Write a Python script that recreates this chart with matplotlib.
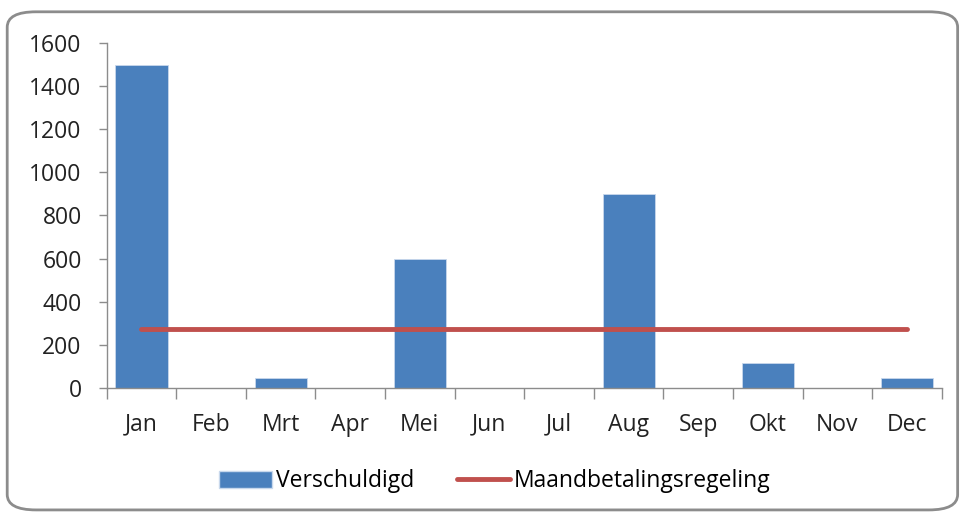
import matplotlib.pyplot as plt
from matplotlib.patches import FancyBboxPatch
from matplotlib.lines import Line2D
from matplotlib.patches import Patch
import numpy as np

maanden = ["Jan", "Feb", "Mrt", "Apr", "Mei", "Jun", "Jul", "Aug", "Sep", "Okt", "Nov", "Dec"]
verschuldigd = [1500, 0, 45, 0, 600, 0, 0, 900, 0, 115, 0, 45]
regeling = [275] * 12
y_ticks = [0, 200, 400, 600, 800, 1000, 1200, 1400, 1600]

plt.rcParams["font.family"] = ["Open Sans", "DejaVu Sans"]

fig = plt.figure(figsize=(9.61, 5.13), dpi=100)
ax = fig.add_axes([0.111, 0.244, 0.869, 0.672])

# rand om de grafiek heen
rand = FancyBboxPatch((0.0075, 0.006), 0.989, 0.971, boxstyle="round,pad=0,rounding_size=0.03",
                      transform=fig.transFigure, fill=False, edgecolor="#8c8c8c", linewidth=2)
fig.patches.append(rand)

x = np.arange(len(maanden))
ax.bar(x, verschuldigd, width=0.75, color="#4a80bd", edgecolor="#c8d8ec", linewidth=0.6, zorder=2)
ax.plot(x, regeling, color="#c0504d", linewidth=3.5, solid_capstyle="round", zorder=3)

ax.set_xlim(-0.5, 11.5)
ax.set_ylim(0, 1600)
ax.set_yticks(y_ticks)
ax.set_yticklabels([str(v) for v in y_ticks], fontsize=16.5, color="#222222")
ax.set_xticks(x)
ax.set_xticklabels(maanden, fontsize=16.5, color="#222222")
ax.tick_params(axis="x", length=0, pad=18)
ax.set_xticks(np.arange(-0.5, 12, 1), minor=True)
ax.tick_params(axis="x", which="minor", length=8, color="#8c8c8c", width=1)
ax.tick_params(axis="y", length=6, color="#8c8c8c", width=1, pad=12)

for s in ["top", "right"]:
    ax.spines[s].set_visible(False)
for s in ["left", "bottom"]:
    ax.spines[s].set_color("#8c8c8c")
    ax.spines[s].set_linewidth(1)

handles = [Patch(facecolor="#4a80bd", edgecolor="#c8d8ec"),
           Line2D([0], [0], color="#c0504d", linewidth=3.5, solid_capstyle="round")]
fig.legend(handles, ["Verschuldigd", "Maandbetalingsregeling"], loc="center",
           bbox_to_anchor=(0.515, 0.062), ncol=2, frameon=False, fontsize=16.5,
           handlelength=2.3, handleheight=0.75, handletextpad=0.15, columnspacing=1.9)

fig.savefig("out.png", dpi=100)
